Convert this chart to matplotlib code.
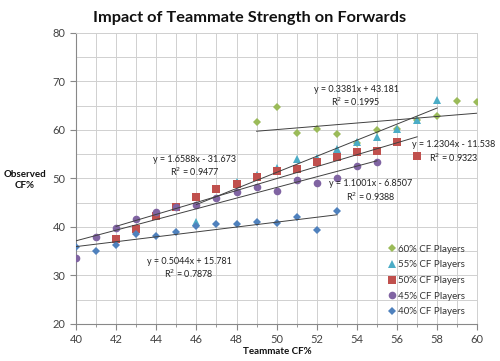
import numpy as np
import matplotlib
matplotlib.use("Agg")
import matplotlib.pyplot as plt
from matplotlib.ticker import MultipleLocator

plt.rcParams['font.family'] = ['Lato', 'DejaVu Sans']

# observed CF% for each player group against teammate CF%
x60 = [49, 50, 51, 52, 53, 54, 55, 56, 57, 58, 59, 60]
y60 = [61.7, 64.7, 59.3, 60.3, 59.1, 57.3, 60.0, 60.3, 62.0, 62.95, 66.0, 65.8]

x55 = [46, 47, 48, 49, 50, 51, 52, 53, 54, 55, 56, 57, 58]
y55 = [41.0, 47.8, 49.3, 50.8, 52.1, 54.1, 54.3, 56.0, 57.5, 58.5, 60.3, 62.1, 66.1]

x50 = [42, 43, 44, 45, 46, 47, 48, 49, 50, 51, 52, 53, 54, 55, 56, 57]
y50 = [37.5, 39.5, 42.3, 44.1, 46.1, 47.8, 48.9, 50.3, 51.6, 51.9, 53.4, 54.5, 55.4, 55.7, 57.5, 54.7]

x45 = [40, 41, 42, 43, 44, 45, 46, 47, 48, 49, 50, 51, 52, 53, 54, 55]
y45 = [33.6, 37.9, 39.8, 41.6, 43.1, 44.2, 44.6, 46.0, 47.2, 48.3, 47.4, 49.7, 49.0, 50.2, 52.6, 53.3]

x40 = [40, 41, 42, 43, 44, 45, 46, 47, 48, 49, 50, 51, 52, 53]
y40 = [35.8, 35.0, 36.3, 38.5, 38.2, 38.9, 40.2, 40.7, 40.6, 41.0, 40.8, 42.0, 39.3, 43.3]

labels = ["60% CF Players", "55% CF Players", "50% CF Players", "45% CF Players", "40% CF Players"]
colors = ["#9BBB59", "#4BACC6", "#C0504D", "#8064A2", "#4F81BD"]
markers = ["D", "^", "s", "o", "D"]
msizes = [3.8, 5.8, 5.2, 5.5, 3.8]

# trendline equations as printed on the chart
slopes = [0.3381, 1.6588, 1.2304, 1.1001, 0.5044]
intercepts = [43.181, -31.673, -11.538, -6.8507, 15.781]
r2 = [0.1995, 0.9477, 0.9323, 0.9388, 0.7878]
eq_pos = [(356, 89), (195, 159), (454, 145), (371, 184), (189, 261)]

xs = [x60, x55, x50, x45, x40]
ys = [y60, y55, y50, y45, y40]


def main():
    fig = plt.figure(figsize=(5.0, 3.61), dpi=100)
    ax = fig.add_axes([0.152, 0.1025, 0.8026, 0.8061])

    for i in range(5):
        ax.plot(xs[i], ys[i], linestyle="none", marker=markers[i], color=colors[i],
                markersize=msizes[i], markeredgewidth=0, label=labels[i], zorder=3 + i)

    for i in range(5):
        xx = np.array([min(xs[i]), max(xs[i])])
        ax.plot(xx, slopes[i] * xx + intercepts[i], color="#404040", linewidth=0.7, zorder=10)
        sign = "+" if intercepts[i] >= 0 else "-"
        eq = f"y = {slopes[i]}x {sign} {abs(intercepts[i])}"
        px, py = eq_pos[i]
        fig.text(px / 500, 1 - py / 361, eq, ha="center", va="center", fontsize=6.5, color="#222222")
        fig.text(px / 500, 1 - (py + 12.5) / 361, f"R$^2$ = {r2[i]}", ha="center", va="center",
                 fontsize=6.5, color="#222222")

    ax.set_xlim(40, 60)
    ax.set_ylim(20, 80)
    ax.xaxis.set_major_locator(MultipleLocator(2))
    ax.xaxis.set_minor_locator(MultipleLocator(1))
    ax.yaxis.set_major_locator(MultipleLocator(10))
    ax.yaxis.set_minor_locator(MultipleLocator(5))
    ax.grid(True, which="both", color="#d0d0d0", linewidth=0.7)
    ax.set_axisbelow(True)
    for s in ["top", "right"]:
        ax.spines[s].set_color("#d0d0d0")
        ax.spines[s].set_linewidth(0.7)
    for s in ["left", "bottom"]:
        ax.spines[s].set_color("#888888")
        ax.spines[s].set_linewidth(0.8)
    ax.tick_params(which="major", length=4, color="#888888", labelsize=8, labelcolor="#444444")
    ax.tick_params(which="minor", length=2, color="#888888")
    ax.tick_params(axis="y", which="minor", length=0)

    fig.text(0.5, 1 - 18 / 361, "Impact of Teammate Strength on Forwards", ha="center", va="center",
             fontsize=11.8, fontweight="bold", color="#111111")
    fig.text(277 / 500, 1 - 352 / 361, "Teammate CF%", ha="center", va="center",
             fontsize=7, fontweight="bold", color="#111111")
    fig.text(25 / 500, 1 - 180 / 361, "Observed\nCF%", ha="center", va="center",
             fontsize=7, fontweight="bold", color="#111111", linespacing=1.3)

    ax.legend(loc="upper left", bbox_to_anchor=(382 / 500, 1 - 240 / 361),
              bbox_transform=fig.transFigure, frameon=False, fontsize=7,
              handletextpad=0.1, handlelength=1.0, labelspacing=0.68, borderpad=0,
              labelcolor="#333333")

    fig.savefig("out.png", dpi=100)
    plt.close(fig)


if __name__ == "__main__":
    main()
